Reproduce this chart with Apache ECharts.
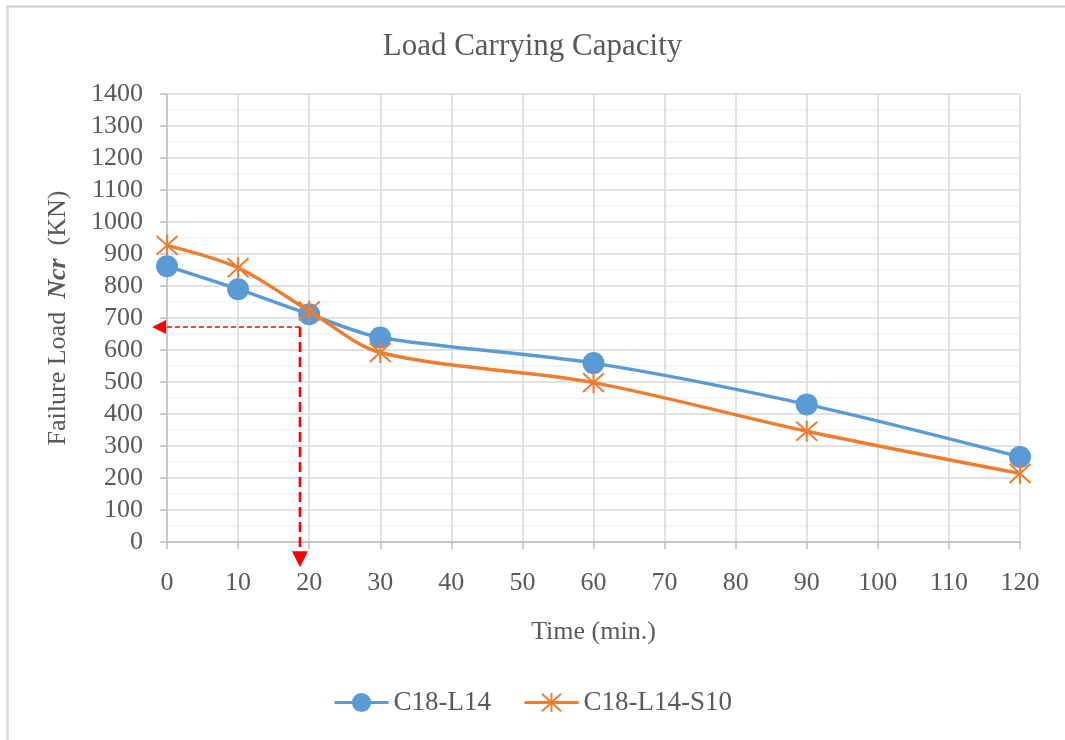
<!DOCTYPE html>
<html>
<head>
<meta charset="utf-8">
<script src="https://cdn.jsdelivr.net/npm/echarts@6/dist/echarts.min.js"></script>
<style>
html,body{margin:0;padding:0;background:#fff;}
#chart{width:1065px;height:740px;}
</style>
</head>
<body>
<div id="chart"></div>
<script>
// ---- data ----
const times = [0, 10, 20, 30, 60, 90, 120];
const seriesNames = ['C18-L14', 'C18-L14-S10'];
const loadC18L14 = [862, 790, 712, 639, 559, 430, 266];
const loadC18L14S10 = [927, 857, 722, 592, 498, 346, 214];
// annotation arrows (data units)
const arrowPoint = [18.7, 672];
const arrowLeftEnd = -2.1;
const arrowBottomEnd = -79;

const textColor = '#595959';
const font = '"Liberation Serif", "Times New Roman", serif';
const asterisk = 'path://M10,0L10,20M1,1L19,19M1,19L19,1';

const chart = echarts.init(document.getElementById('chart'));
chart.setOption({
  animation: false,
  backgroundColor: '#fff',
  graphic: [{
    type: 'rect', left: 5, top: 4, z: -10,
    shape: { width: 1200, height: 900 },
    style: { fill: 'none', stroke: '#D9D9D9', lineWidth: 2.5 }
  }],
  title: {
    text: 'Load Carrying Capacity',
    left: 'center', top: 26,
    textStyle: { fontFamily: font, fontSize: 31, fontWeight: 'normal', color: textColor }
  },
  legend: {
    bottom: 19, left: 'center',
    itemWidth: 54, itemHeight: 24, itemGap: 32,
    lineStyle: { width: 3 },
    textStyle: { fontFamily: font, fontSize: 27, color: textColor },
    data: seriesNames
  },
  grid: { left: 167, right: 45, top: 94, bottom: 198 },
  xAxis: {
    type: 'value', min: 0, max: 120, interval: 10,
    name: 'Time (min.)', nameLocation: 'middle', nameGap: 77,
    nameTextStyle: { fontFamily: font, fontSize: 26, color: textColor },
    axisLine: { lineStyle: { color: '#BFBFBF', width: 1.5 } },
    axisTick: { show: true, length: 7, lineStyle: { color: '#BFBFBF', width: 1.5 } },
    axisLabel: { margin: 28, fontFamily: font, fontSize: 26, color: textColor },
    splitLine: { show: true, lineStyle: { color: '#D9D9D9', width: 1.5 } }
  },
  yAxis: {
    type: 'value', min: 0, max: 1400, interval: 100,
    name: '{a|Failure Load  }{b|Ncr}{a|  (KN)}',
    nameLocation: 'middle', nameGap: 96,
    nameTextStyle: {
      color: textColor,
      rich: {
        a: { fontFamily: font, fontSize: 26, color: textColor },
        b: { fontFamily: font, fontSize: 26, fontWeight: 'bold', fontStyle: 'italic', color: textColor }
      }
    },
    axisLine: { show: true, lineStyle: { color: '#BFBFBF', width: 1.5 } },
    axisTick: { show: true, length: 7, lineStyle: { color: '#BFBFBF', width: 1.5 } },
    axisLabel: { margin: 24, fontFamily: font, fontSize: 26, color: textColor,
      formatter: function (v) { return String(v); } },
    splitLine: { show: true, lineStyle: { color: '#D9D9D9', width: 1.5 } },
    minorTick: { show: false, splitNumber: 2 },
    minorSplitLine: { show: true, lineStyle: { color: '#F2F2F2', width: 1.5 } }
  },
  series: [
    {
      name: seriesNames[0], type: 'line', smooth: 0.3,
      data: times.map((t, i) => [t, loadC18L14[i]]),
      symbol: 'circle', symbolSize: 22,
      itemStyle: { color: '#5B9BD5' },
      lineStyle: { color: '#5B9BD5', width: 3.5 },
      z: 3
    },
    {
      name: seriesNames[1], type: 'line', smooth: 0.3,
      data: times.map((t, i) => [t, loadC18L14S10[i]]),
      symbol: asterisk, symbolSize: 21,
      itemStyle: { color: '#ED7D31', borderColor: '#ED7D31', borderWidth: 2 },
      lineStyle: { color: '#ED7D31', width: 3.5 },
      z: 4
    },
    {
      type: 'custom', clip: false, silent: true, z: 10,
      data: [[arrowPoint[0], arrowPoint[1]]],
      renderItem: function (params, api) {
        const p = api.coord([arrowPoint[0], arrowPoint[1]]);
        const l = api.coord([arrowLeftEnd, arrowPoint[1]]);
        const b = api.coord([arrowPoint[0], arrowBottomEnd]);
        const red = '#FF0000';
        return {
          type: 'group',
          children: [
            { type: 'line', shape: { x1: p[0], y1: p[1], x2: l[0] + 13, y2: l[1] },
              style: { stroke: red, lineWidth: 1.5, lineDash: [5, 3] } },
            { type: 'polygon', shape: { points: [[l[0], l[1]], [l[0] + 14, l[1] - 7], [l[0] + 14, l[1] + 7]] },
              style: { fill: red } },
            { type: 'line', shape: { x1: p[0], y1: p[1], x2: b[0], y2: b[1] - 16 },
              style: { stroke: red, lineWidth: 2.5, lineDash: [10, 5] } },
            { type: 'polygon', shape: { points: [[b[0], b[1]], [b[0] - 8, b[1] - 16], [b[0] + 8, b[1] - 16]] },
              style: { fill: red } }
          ]
        };
      }
    }
  ]
});
</script>
</body>
</html>
